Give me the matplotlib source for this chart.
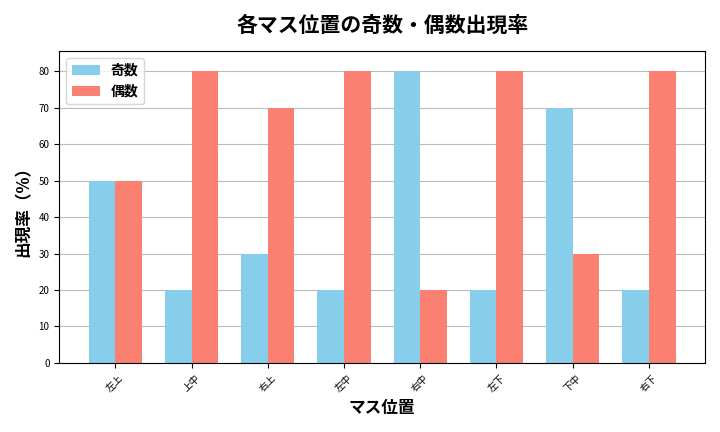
import matplotlib
matplotlib.use("Agg")
import matplotlib.pyplot as plt
import numpy as np

plt.rcParams["font.family"] = "Noto Sans CJK JP"

categories = ["左上", "上中", "右上", "左中", "右中", "左下", "下中", "右下"]
odd = [50, 20, 30, 20, 80, 20, 70, 20]
even = [50, 80, 70, 80, 20, 80, 30, 80]

fig, ax = plt.subplots(figsize=(7.2, 4.32), dpi=100)
x = np.arange(len(categories))
w = 0.35
ax.bar(x - w/2, odd, w, color="skyblue", label="奇数", zorder=2)
ax.bar(x + w/2, even, w, color="salmon", label="偶数", zorder=2)
ax.set_xticks(x)
ax.set_xticklabels(categories, rotation=45, fontsize=7)
ax.tick_params(axis="y", labelsize=7)
ax.set_yticks(range(0, 81, 10))
ax.set_ylim(0, 85.5)
ax.grid(axis="y", color="#bbbbbb", linewidth=0.8, zorder=0)
ax.set_xlabel("マス位置", fontsize=12, fontweight="bold")
ax.set_ylabel("出現率（%）", fontsize=12, fontweight="bold")
ax.set_title("各マス位置の奇数・偶数出現率", fontsize=15, fontweight="bold", pad=14)
ax.legend(loc="upper left", prop={"size": 10, "weight": "bold"})
fig.tight_layout()
fig.savefig("out.png")
